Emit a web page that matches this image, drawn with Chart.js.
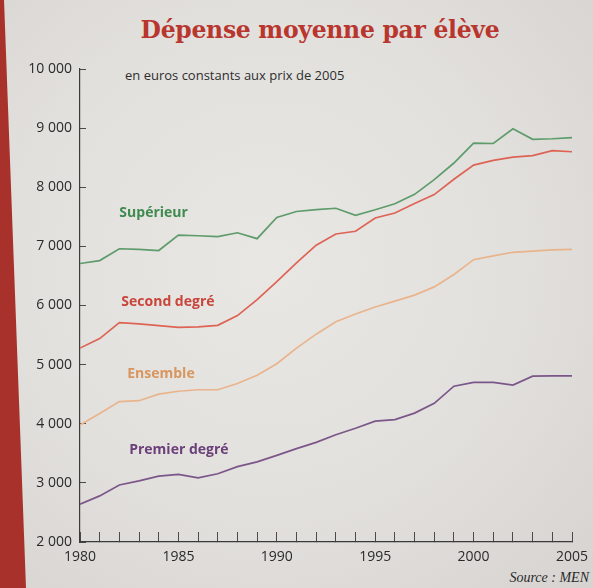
<!DOCTYPE html>
<html lang="fr">
<head>
<meta charset="utf-8">
<title>Dépense moyenne par élève</title>
<script src="https://cdn.jsdelivr.net/npm/chart.js@4.4.1/dist/chart.umd.min.js"></script>
<style>
  html, body { margin: 0; padding: 0; }
  body {
    width: 593px; height: 588px; overflow: hidden; position: relative;
    background: radial-gradient(ellipse at 45% 45%, #e9e7e4 0%, #e2e0dd 55%, #d6d3d0 100%);
    font-family: "Open Sans", sans-serif;
  }
  .strip {
    position: absolute; left: 0; top: 0; width: 30px; height: 588px;
    background: #a8322b;
    clip-path: polygon(0 0, 4px 0, 26px 588px, 0 588px);
  }
  .title {
    position: absolute; left: 0; width: 640px; top: 16px; text-align: center;
    font-family: "DejaVu Serif", serif; font-weight: bold;
    font-size: 23.5px; color: #b8362e; letter-spacing: -0.3px;
  }
  .sub {
    position: absolute; left: 125px; top: 66px;
    font-size: 13px; color: #2e2e2e;
  }
  .source {
    position: absolute; right: 4px; top: 570px;
    font-family: "Liberation Serif", serif; font-style: italic; font-size: 14px; color: #2a2a2a;
  }
  #wrap { position: absolute; left: 0; top: 0; width: 593px; height: 588px; }
</style>
</head>
<body>
<div class="strip"></div>
<div class="title">Dépense moyenne par élève</div>
<div class="sub">en euros constants aux prix de 2005</div>
<div class="source">Source : MEN</div>
<div id="wrap"><canvas id="chart" width="593" height="588"></canvas></div>
<script>
"use strict";

// ---- data ----
const years = [1980, 1981, 1982, 1983, 1984, 1985, 1986, 1987, 1988, 1989, 1990, 1991, 1992,
  1993, 1994, 1995, 1996, 1997, 1998, 1999, 2000, 2001, 2002, 2003, 2004, 2005];
const superieur = [6710, 6760, 6960, 6950, 6930, 7190, 7180, 7165, 7230, 7130, 7490, 7590, 7620,
  7645, 7525, 7620, 7720, 7880, 8130, 8410, 8745, 8740, 8990, 8810, 8820, 8840];
const secondDegre = [5280, 5440, 5710, 5690, 5660, 5630, 5640, 5665, 5830, 6100, 6405, 6720, 7020,
  7210, 7255, 7480, 7565, 7725, 7875, 8135, 8375, 8455, 8510, 8535, 8620, 8600];
const ensemble = [3980, 4175, 4375, 4390, 4500, 4550, 4575, 4575, 4680, 4820, 5015, 5280, 5515,
  5725, 5855, 5975, 6075, 6175, 6315, 6525, 6775, 6840, 6900, 6920, 6940, 6950];
const premierDegre = [2640, 2780, 2965, 3035, 3115, 3145, 3085, 3155, 3275, 3355, 3465, 3580, 3685,
  3815, 3925, 4045, 4070, 4180, 4345, 4635, 4700, 4700, 4655, 4805, 4810, 4810];

const xLabels = [1980, 1985, 1990, 1995, 2000, 2005];
const yMin = 2000, yMax = 10000, yStep = 1000;

// series name, values, line colour, label colour, label anchor (year, value)
const series = [
  { name: "Supérieur",     data: superieur,    line: "#5f9c6c", text: "#3f8a4e", at: [1982.0, 7570] },
  { name: "Second degré",  data: secondDegre,  line: "#dd6454", text: "#c9443a", at: [1982.1, 6060] },
  { name: "Ensemble",      data: ensemble,     line: "#e9b48c", text: "#d8965f", at: [1982.4, 4840] },
  { name: "Premier degré", data: premierDegre, line: "#7b5689", text: "#6b3f7a", at: [1982.5, 3560] },
];

const pts = (vals) => years.map((y, i) => ({ x: y, y: vals[i] }));
const fmt = (v) => String(v).replace(/\B(?=(\d{3})+(?!\d))/g, " ");

// ---- series names written next to the curves ----
const seriesLabels = {
  id: "seriesLabels",
  afterDatasetsDraw(chart) {
    const { ctx, scales: { x, y } } = chart;
    ctx.save();
    ctx.font = "bold 14px 'Open Sans', sans-serif";
    ctx.textBaseline = "middle";
    ctx.textAlign = "left";
    series.forEach((s) => {
      ctx.fillStyle = s.text;
      ctx.fillText(s.name, x.getPixelForValue(s.at[0]), y.getPixelForValue(s.at[1]));
    });
    ctx.restore();
  },
};

new Chart(document.getElementById("chart").getContext("2d"), {
  type: "line",
  data: {
    datasets: series.map((s) => ({
      label: s.name,
      data: pts(s.data),
      borderColor: s.line,
      borderWidth: 1.7,
      pointRadius: 0,
      tension: 0,
      fill: false,
    })),
  },
  options: {
    responsive: false,
    animation: false,
    layout: { padding: { top: 69, right: 21, left: 0, bottom: 0 } },
    plugins: { legend: { display: false }, tooltip: { enabled: false }, title: { display: false } },
    scales: {
      x: {
        type: "linear", min: 1980, max: 2005,
        afterFit: (s) => { s.height = 46; s.paddingLeft = 0; s.paddingRight = 0; },
        afterBuildTicks: (s) => { s.ticks = years.map((v) => ({ value: v })); },
        border: { display: true, color: "#3a3a3a", width: 1.2 },
        grid: { drawOnChartArea: false, drawTicks: true, tickLength: -10, tickColor: "#4a4a4a", lineWidth: 1 },
        ticks: {
          autoSkip: false, maxRotation: 0, padding: 17,
          color: "#2a2a2a", font: { family: "'Open Sans', sans-serif", size: 14 },
          callback: (v) => (xLabels.includes(v) ? String(v) : ""),
        },
      },
      y: {
        min: yMin, max: yMax,
        afterFit: (s) => { s.width = 80; s.paddingTop = 0; s.paddingBottom = 0; },
        border: { display: true, color: "#3a3a3a", width: 1.2 },
        grid: { drawOnChartArea: false, drawTicks: true, tickLength: -6, tickColor: "#4a4a4a", lineWidth: 1 },
        ticks: {
          stepSize: yStep, padding: 14,
          color: "#2a2a2a", font: { family: "'Open Sans', sans-serif", size: 14 },
          callback: (v) => fmt(v),
        },
      },
    },
  },
  plugins: [seriesLabels],
});
</script>
</body>
</html>
